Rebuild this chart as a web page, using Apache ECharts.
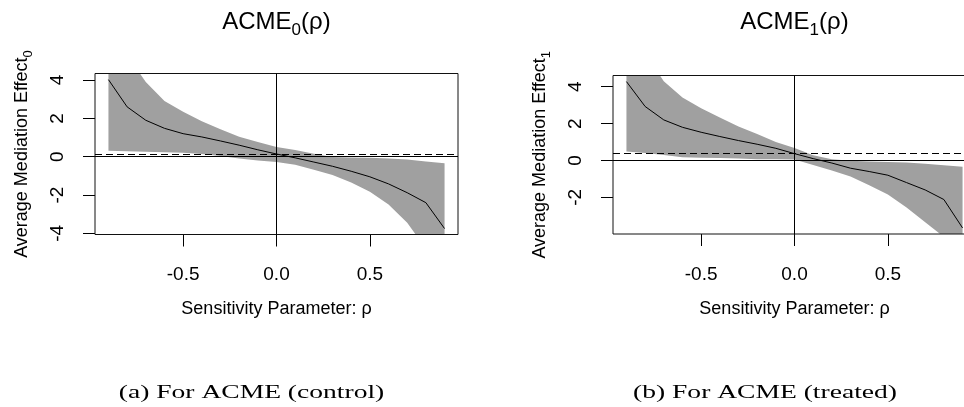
<!DOCTYPE html>
<html><head><meta charset="utf-8">
<script src="https://cdn.jsdelivr.net/npm/echarts@6/dist/echarts.min.js"></script>
<style>html,body{margin:0;padding:0;background:#fff}#c{width:964px;height:407px}</style>
</head><body><div id="c"></div>
<script>
// sensitivity parameter grid
const rho = [-0.9,-0.8,-0.7,-0.6,-0.5,-0.4,-0.3,-0.2,-0.1,0.0,0.1,0.2,0.3,0.4,0.5,0.6,0.7,0.8,0.9];

// ACME_0 (control)
const acme0  = [4.02,2.60,1.90,1.48,1.20,1.03,0.82,0.60,0.36,0.14,-0.06,-0.28,-0.50,-0.76,-1.05,-1.42,-1.88,-2.40,-3.75];
const upper0 = [7.0,5.3,3.9,2.9,2.35,1.85,1.43,1.04,0.76,0.50,0.35,0.15,-0.02,-0.04,-0.06,-0.10,-0.15,-0.25,-0.34];
const lower0 = [0.31,0.28,0.26,0.23,0.20,0.14,0.04,-0.10,-0.20,-0.28,-0.42,-0.68,-0.96,-1.35,-1.83,-2.50,-3.45,-4.8,-7.0];
const est0 = 0.14;

// ACME_1 (treated)
const acme1  = [4.28,2.93,2.20,1.80,1.53,1.30,1.08,0.88,0.66,0.37,0.10,-0.14,-0.42,-0.60,-0.80,-1.20,-1.60,-2.12,-3.66];
const upper1 = [8.0,5.8,4.3,3.42,2.83,2.33,1.84,1.44,1.00,0.67,0.28,0.06,-0.02,-0.06,-0.08,-0.11,-0.18,-0.26,-0.34];
const lower1 = [0.49,0.40,0.30,0.18,0.15,0.13,0.10,0.06,0.06,0.05,-0.25,-0.55,-0.87,-1.35,-1.85,-2.55,-3.35,-4.15,-6.0];
const est1 = 0.37;

// tick labels
const xTicks = [-0.5, 0.0, 0.5];
const yTicks0 = [-4, -2, 0, 2, 4];
const yTicks1 = [-2, 0, 2, 4];

const titles = ['0', '1'];
const captions = ['(a) For ACME (control)', '(b) For ACME (treated)'];

const BAND = '#a0a0a0';
const grids = [
  {left: 95, top: 73.5, width: 363, height: 161},
  {left: 613, top: 75.5, width: 363, height: 158.5}
];
const yRanges = [[-4.06, 4.34], [-3.99, 4.61]];
const panels = [
  {acme: acme0, up: upper0, lo: lower0, est: est0, yt: yTicks0},
  {acme: acme1, up: upper1, lo: lower1, est: est1, yt: yTicks1}
];

const option = {
  animation: false,
  backgroundColor: '#fff',
  title: panels.map((p, i) => ({
    text: '{a|ACME}{s|' + titles[i] + '}{a|(ρ)}',
    left: grids[i].left + grids[i].width / 2,
    textAlign: 'center',
    top: 10, padding: 0,
    textStyle: {
      fontWeight: 'normal',
      rich: {
        a: {fontFamily: 'Liberation Sans', fontWeight: 'normal', fontSize: 24, lineHeight: 26, color: '#000', verticalAlign: 'top'},
        s: {fontFamily: 'Liberation Sans', fontWeight: 'normal', fontSize: 17, lineHeight: 17, color: '#000', verticalAlign: 'top', padding: [12, 0, 0, 0]}
      }
    }
  })),
  grid: grids.map(g => Object.assign({show: true, borderColor: '#111', borderWidth: 1, backgroundColor: 'transparent', outerBoundsMode: 'none', containLabel: false, z: 5}, g)),
  xAxis: panels.map((p, i) => ({
    type: 'value', gridIndex: i, min: -0.972, max: 0.972, position: 'bottom',
    name: 'Sensitivity Parameter: ρ', nameLocation: 'middle', nameGap: 66,
    nameTextStyle: {fontFamily: 'Liberation Sans', fontSize: 18, color: '#000'},
    axisLine: {show: false, onZero: false},
    splitLine: {show: false},
    axisTick: {show: true, inside: false, length: 12, customValues: xTicks, lineStyle: {color: '#000', width: 1}},
    axisLabel: {customValues: xTicks, margin: 31, fontFamily: 'Liberation Sans', fontSize: 19, color: '#000',
      formatter: v => Number(v).toFixed(1)}
  })),
  yAxis: panels.map((p, i) => ({
    type: 'value', gridIndex: i, min: yRanges[i][0], max: yRanges[i][1], position: 'left',
    name: '{a|Average Mediation Effect}{s|' + titles[i] + '}', nameLocation: 'middle', nameGap: 62,
    nameTextStyle: {
      rich: {
        a: {fontFamily: 'Liberation Sans', fontSize: 18, lineHeight: 20, color: '#000', verticalAlign: 'top'},
        s: {fontFamily: 'Liberation Sans', fontSize: 13, lineHeight: 13, color: '#000', verticalAlign: 'top', padding: [9, 0, 0, 0]}
      }
    },
    axisLine: {show: false, onZero: false},
    splitLine: {show: false},
    axisTick: {show: true, inside: false, length: 12, customValues: p.yt, lineStyle: {color: '#000', width: 1}},
    axisLabel: {customValues: p.yt, rotate: 90, margin: 28, fontFamily: 'Liberation Sans', fontSize: 19, color: '#000',
      formatter: v => String(Math.round(v))}
  })),
  series: [],
  graphic: captions.map((c, i) => ({
    type: 'text',
    x: i === 0 ? 251.5 : 765, y: 393,
    scaleX: 1.45,
    style: {text: c, font: '19px "Liberation Serif"', fill: '#000', align: 'center', verticalAlign: 'middle'}
  }))
};

panels.forEach((p, i) => {
  // confidence band drawn as one polygon through the axis scales
  option.series.push({
    type: 'custom', xAxisIndex: i, yAxisIndex: i, clip: true, silent: true, z: 1,
    data: rho.map((r, k) => [r, p.lo[k], p.up[k]]),
    encode: {x: 0, y: [1, 2]},
    renderItem: (params, api) => {
      if (params.dataIndex !== 0) return null;
      const pts = [];
      for (let k = 0; k < rho.length; k++) pts.push(api.coord([rho[k], p.up[k]]));
      for (let k = rho.length - 1; k >= 0; k--) pts.push(api.coord([rho[k], p.lo[k]]));
      const cs = params.coordSys;
      return {
        type: 'polygon',
        shape: {points: pts},
        style: {fill: BAND, stroke: null},
        clipPath: {type: 'rect', shape: {x: cs.x, y: cs.y, width: cs.width, height: cs.height}}
      };
    }
  });
  option.series.push({
    type: 'line', xAxisIndex: i, yAxisIndex: i,
    data: rho.map((r, k) => [r, p.acme[k]]),
    symbol: 'none', lineStyle: {color: '#000', width: 1}, silent: true, z: 3,
    markLine: {
      silent: true, symbol: ['none', 'none'], label: {show: false}, animation: false,
      lineStyle: {color: '#000', width: 1, type: 'solid'},
      data: [
        {yAxis: 0},
        {xAxis: 0},
        {yAxis: p.est, lineStyle: {type: [7, 4], color: '#000', width: 1.2}}
      ]
    }
  });
});

const chart = echarts.init(document.getElementById('c'), null, {renderer: 'canvas'});
chart.setOption(option);
</script>
</body></html>
